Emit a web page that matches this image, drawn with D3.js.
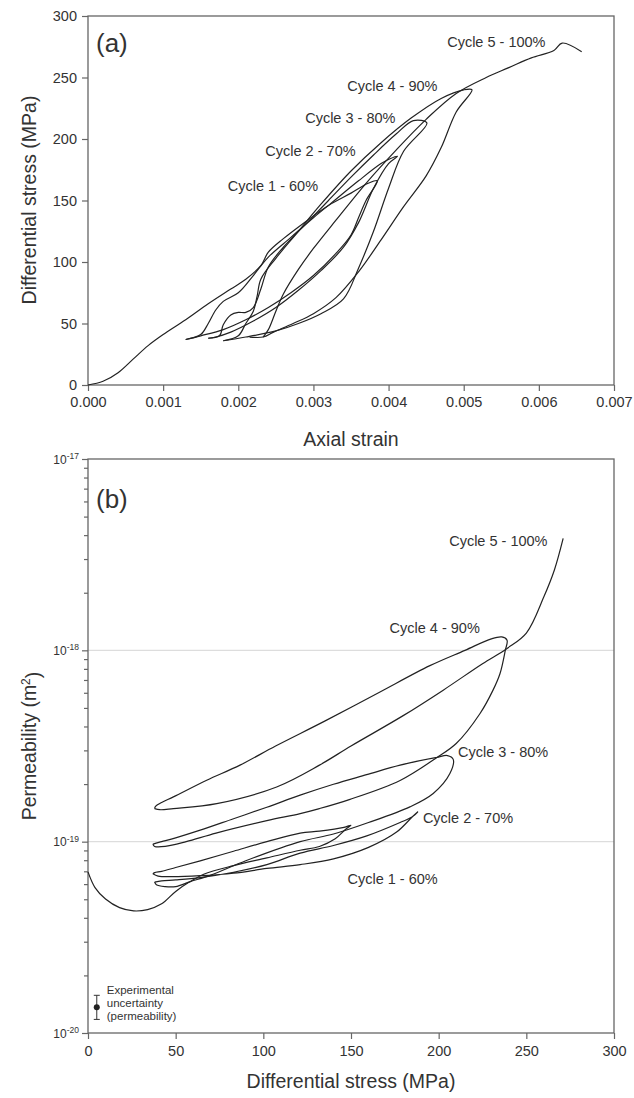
<!DOCTYPE html>
<html>
<head>
<meta charset="utf-8">
<script src="https://cdn.jsdelivr.net/npm/d3@7"></script>
<style>
  body { margin: 0; background: #fff; }
  svg { font-family: "Liberation Sans", Arial, sans-serif; }
  .frame { fill: none; stroke: #666; stroke-width: 1.3; }
  .curve { fill: none; stroke: #222; stroke-width: 1.2; stroke-linejoin: round; }
  .axis path, .axis line { stroke: #666; stroke-width: 1.2; }
  .axis text { fill: #333; font-size: 14.5px; }
  .grid { stroke: #ddd; stroke-width: 1.2; }
  .lbl { fill: #333; font-size: 14.5px; }
  .title { fill: #333; font-size: 19.5px; }
</style>
</head>
<body>
<script>
// ---- panel (a): axial strain vs differential stress (MPa) ----
var strainTicks = [0, 0.001, 0.002, 0.003, 0.004, 0.005, 0.006, 0.007];
var stressTicks = [0, 50, 100, 150, 200, 250, 300];

var cycleA1 = [[0,0],[0.0002,3],[0.0004,10],[0.0006,21],[0.0008,32],[0.001,41],[0.0013,53],[0.0016,66],[0.0019,78],
  [0.0021,86],[0.0023,97],[0.0024,108],[0.0026,119],[0.0029,133],[0.0032,146],[0.0035,156],[0.00373,164],[0.00385,166],
  [0.0037,150],[0.0036,136],[0.0035,122],[0.0033,107],[0.0030,89],[0.0027,75],[0.0024,63],[0.0021,53],[0.0018,45],[0.0015,40],[0.0013,37]];
var cycleA2 = [[0.0013,37],[0.0015,41],[0.0016,50],[0.0017,61],[0.0018,68],[0.0020,75],[0.0022,89],[0.0024,104],[0.0027,120],
  [0.0030,136],[0.0033,151],[0.0036,166],[0.0039,180],[0.00402,184],[0.00412,186],
  [0.0040,180],[0.0038,160],[0.0036,132],[0.0034,112],[0.0031,93],[0.0028,77],[0.0025,63],[0.0022,52],[0.0019,43],[0.0017,39],[0.0016,38]];
var cycleA3 = [[0.0016,38],[0.00175,40],[0.0018,49],[0.0019,57],[0.0020,59],[0.0021,59],[0.0022,63],[0.0023,78],[0.0024,96],
  [0.0026,112],[0.0029,131],[0.0032,150],[0.0035,169],[0.0038,187],[0.0041,204],[0.00433,215],[0.00451,213],
  [0.0042,190],[0.0040,160],[0.0038,125],[0.0036,95],[0.0034,70],[0.0031,58],[0.0028,50],[0.0025,44],[0.0021,39],[0.0018,36]];
var cycleA4 = [[0.0018,36],[0.0020,40],[0.0021,50],[0.0022,60],[0.00225,72],[0.0023,86],[0.0025,103],[0.0028,125],[0.0031,147],
  [0.0035,174],[0.0039,197],[0.0043,217],[0.0047,233],[0.0050,240],[0.00511,240],
  [0.0049,222],[0.0047,193],[0.0045,170],[0.0042,145],[0.0039,118],[0.0036,92],[0.0033,71],[0.0030,58],[0.00273,50],
  [0.00247,43],[0.00233,39],[0.00215,39]];
var cycleA5 = [[0.00233,39],[0.0024,45],[0.0025,60],[0.0026,74],[0.0028,94],[0.0030,111],[0.0033,134],[0.0037,164],
  [0.0041,191],[0.0045,216],[0.0049,237],[0.0053,250],[0.0056,258],[0.0059,266],[0.0062,272],[0.00631,278],[0.00657,271]];
var curvesA = [cycleA1, cycleA2, cycleA3, cycleA4, cycleA5];
var labelsA = [
  { text: 'Cycle 1 - 60%', strain: 0.00186, stress: 158 },
  { text: 'Cycle 2 - 70%', strain: 0.00236, stress: 186 },
  { text: 'Cycle 3 - 80%', strain: 0.00289, stress: 213 },
  { text: 'Cycle 4 - 90%', strain: 0.00345, stress: 239 },
  { text: 'Cycle 5 - 100%', strain: 0.00478, stress: 275 }
];

// ---- panel (b): differential stress vs permeability (values are log10 m^2) ----
var permTicks = [1e-20, 1e-19, 1e-18, 1e-17];
var stressTicksB = [0, 50, 100, 150, 200, 250, 300];

var cycleB1 = [[0,-19.158],[4,-19.24],[10,-19.30],[18,-19.345],[26,-19.362],[34,-19.355],[42,-19.325],[50,-19.26],
  [58,-19.21],[66,-19.17],[83,-19.125],[102,-19.085],[121,-19.045],[132,-19.025],[141,-18.985],[147,-18.935],[150,-18.914],
  [146,-18.925],[132,-18.945],[121,-18.955],[102,-19.0],[83,-19.05],[64,-19.1],[50,-19.135],[42,-19.155],[38,-19.162],[37,-19.168]];
var cycleB2 = [[37,-19.168],[40,-19.18],[48,-19.183],[64,-19.178],[83,-19.165],[102,-19.14],[121,-19.12],[140,-19.09],
  [160,-19.03],[176,-18.95],[185,-18.87],[188,-18.845],[185,-18.87],[178,-18.9],[159,-18.97],[140,-19.02],[121,-19.06],
  [102,-19.12],[83,-19.16],[64,-19.188],[50,-19.2],[42,-19.205],[38,-19.211]];
var cycleB3 = [[38,-19.211],[39,-19.225],[44,-19.235],[50,-19.235],[58,-19.21],[70,-19.175],[90,-19.1],[121,-19.0],
  [140,-18.96],[160,-18.9],[183.6,-18.818],[196.9,-18.748],[206.4,-18.644],[208.3,-18.57],[205,-18.55],[198.8,-18.56],
  [178,-18.6],[158.9,-18.65],[140,-18.7],[121,-18.757],[102,-18.82],[83,-18.88],[64,-18.94],[50,-18.98],[42,-19.0],
  [38,-19.01],[37,-19.014]];
var cycleB4 = [[37,-19.014],[38,-19.025],[44,-19.025],[56,-19.0],[73,-18.955],[102,-18.89],[121,-18.853],[132,-18.827],
  [149,-18.78],[178,-18.68],[199,-18.56],[210,-18.487],[223.6,-18.33],[231,-18.208],[235,-18.121],[238,-18.0],[239,-17.947],
  [236,-17.93],[230,-17.94],[215,-18.0],[195,-18.08],[166,-18.22],[135,-18.37],[107,-18.5],
  [86.7,-18.6],[67.7,-18.679],[48.7,-18.766],[42,-18.795],[38.5,-18.815],[38,-18.827]];
var cycleB5 = [[38,-18.827],[41,-18.833],[48.7,-18.827],[73.4,-18.801],[107.6,-18.714],[132,-18.6],[150,-18.5],[180,-18.34],
  [202.6,-18.208],[225,-18.07],[239,-17.99],[250,-17.91],[260,-17.72],[266,-17.58],[271,-17.415]];
var curvesB = [cycleB1, cycleB2, cycleB3, cycleB4, cycleB5];
var labelsB = [
  { text: 'Cycle 1 - 60%', stress: 148, perm: -19.22 },
  { text: 'Cycle 2 - 70%', stress: 191, perm: -18.90 },
  { text: 'Cycle 3 - 80%', stress: 211, perm: -18.56 },
  { text: 'Cycle 4 - 90%', stress: 172, perm: -17.91 },
  { text: 'Cycle 5 - 100%', stress: 206, perm: -17.455 }
];
// experimental uncertainty marker: stress, log10 k (centre, low, high)
var uncertainty = { stress: 5, mid: -19.866, lo: -19.929, hi: -19.803 };
var uncertaintyText = ['Experimental', 'uncertainty', '(permeability)'];

var W = 634, H = 1098;
var svg = d3.select('body').append('svg').attr('width', W).attr('height', H);

// ---------- panel (a) ----------
var xa = d3.scaleLinear().domain([0, 0.007]).range([88, 614]);
var ya = d3.scaleLinear().domain([0, 300]).range([385, 16]);

svg.append('g').attr('class', 'axis').attr('transform', 'translate(0,385)')
    .call(d3.axisBottom(xa).tickValues(strainTicks).tickFormat(d3.format('.3f')).tickSize(6).tickPadding(6))
    .call(function(g) { g.select('.domain').remove(); });
svg.append('g').attr('class', 'axis').attr('transform', 'translate(88,0)')
    .call(d3.axisLeft(ya).tickValues(stressTicks).tickSize(6).tickPadding(5))
    .call(function(g) { g.select('.domain').remove(); });
svg.append('rect').attr('class', 'frame')
    .attr('x', 88).attr('y', 16).attr('width', 614 - 88).attr('height', 385 - 16);

var lineA = d3.line().x(function(d) { return xa(d[0]); }).y(function(d) { return ya(d[1]); })
    .curve(d3.curveCatmullRom.alpha(0.5));
svg.append('g').selectAll('path').data(curvesA).enter().append('path')
    .attr('class', 'curve').attr('d', lineA);

svg.append('g').selectAll('text').data(labelsA).enter().append('text')
    .attr('class', 'lbl')
    .attr('x', function(d) { return xa(d.strain); })
    .attr('y', function(d) { return ya(d.stress); })
    .text(function(d) { return d.text; });

svg.append('text').attr('x', 96).attr('y', 52).attr('fill', '#333').style('font-size', '26px').text('(a)');
svg.append('text').attr('class', 'title').attr('x', 351).attr('y', 446).attr('text-anchor', 'middle').text('Axial strain');
svg.append('text').attr('class', 'title').attr('text-anchor', 'middle')
    .attr('transform', 'translate(36,200) rotate(-90)').text('Differential stress (MPa)');

// ---------- panel (b) ----------
var xb = d3.scaleLinear().domain([0, 300]).range([88, 614]);
var yb = d3.scaleLog().domain([1e-20, 1e-17]).range([1033, 459]);

svg.append('g').selectAll('line').data([1e-19, 1e-18]).enter().append('line')
    .attr('class', 'grid').attr('x1', 88).attr('x2', 614)
    .attr('y1', function(d) { return yb(d); }).attr('y2', function(d) { return yb(d); });

svg.append('g').attr('class', 'axis').attr('transform', 'translate(0,1033)')
    .call(d3.axisBottom(xb).tickValues(stressTicksB).tickSize(6).tickPadding(7))
    .call(function(g) { g.select('.domain').remove(); });

var minorTicks = yb.ticks().filter(function(d) { return permTicks.indexOf(d) < 0; });
svg.append('g').attr('class', 'axis').attr('transform', 'translate(88,0)')
    .call(d3.axisLeft(yb).tickValues(minorTicks).tickSize(4).tickFormat(''))
    .call(function(g) { g.select('.domain').remove(); });
var yAxisB = svg.append('g').attr('class', 'axis').attr('transform', 'translate(88,0)')
    .call(d3.axisLeft(yb).tickValues(permTicks).tickSize(6).tickFormat(''))
    .call(function(g) { g.select('.domain').remove(); });
yAxisB.selectAll('.tick').append('text')
    .attr('x', -9).attr('dy', '0.35em').attr('text-anchor', 'end').style('font-size', '12px')
    .each(function(d) {
      var t = d3.select(this);
      t.append('tspan').text('10');
      t.append('tspan').attr('dy', '-0.55em').style('font-size', '8.5px').text(Math.round(Math.log10(d)));
    });

svg.append('rect').attr('class', 'frame')
    .attr('x', 88).attr('y', 459).attr('width', 614 - 88).attr('height', 1033 - 459);

var lineB = d3.line().x(function(d) { return xb(d[0]); }).y(function(d) { return yb(Math.pow(10, d[1])); })
    .curve(d3.curveCatmullRom.alpha(0.5));
svg.append('g').selectAll('path').data(curvesB).enter().append('path')
    .attr('class', 'curve').attr('d', lineB);

svg.append('g').selectAll('text').data(labelsB).enter().append('text')
    .attr('class', 'lbl')
    .attr('x', function(d) { return xb(d.stress); })
    .attr('y', function(d) { return yb(Math.pow(10, d.perm)); })
    .text(function(d) { return d.text; });

// uncertainty marker
var ux = xb(uncertainty.stress);
var ug = svg.append('g').attr('stroke', '#333').attr('stroke-width', 1);
ug.append('line').attr('x1', ux).attr('x2', ux)
    .attr('y1', yb(Math.pow(10, uncertainty.hi))).attr('y2', yb(Math.pow(10, uncertainty.lo)));
[uncertainty.hi, uncertainty.lo].forEach(function(v) {
  ug.append('line').attr('x1', ux - 3).attr('x2', ux + 3)
      .attr('y1', yb(Math.pow(10, v))).attr('y2', yb(Math.pow(10, v)));
});
svg.append('circle').attr('cx', ux).attr('cy', yb(Math.pow(10, uncertainty.mid))).attr('r', 3).attr('fill', '#222');
svg.append('g').selectAll('text').data(uncertaintyText).enter().append('text')
    .attr('x', ux + 10).attr('y', function(d, i) { return 994 + i * 13; })
    .attr('fill', '#333').style('font-size', '11.5px').text(function(d) { return d; });

svg.append('text').attr('x', 96).attr('y', 508).attr('fill', '#333').style('font-size', '26px').text('(b)');
svg.append('text').attr('class', 'title').attr('x', 351).attr('y', 1088).attr('text-anchor', 'middle')
    .text('Differential stress (MPa)');
var py = svg.append('text').attr('class', 'title').attr('text-anchor', 'middle')
    .attr('transform', 'translate(36,746) rotate(-90)');
py.append('tspan').text('Permeability (m');
py.append('tspan').attr('dy', '-0.5em').style('font-size', '12px').text('2');
py.append('tspan').attr('dy', '0.5em').text(')');
</script>
</body>
</html>
